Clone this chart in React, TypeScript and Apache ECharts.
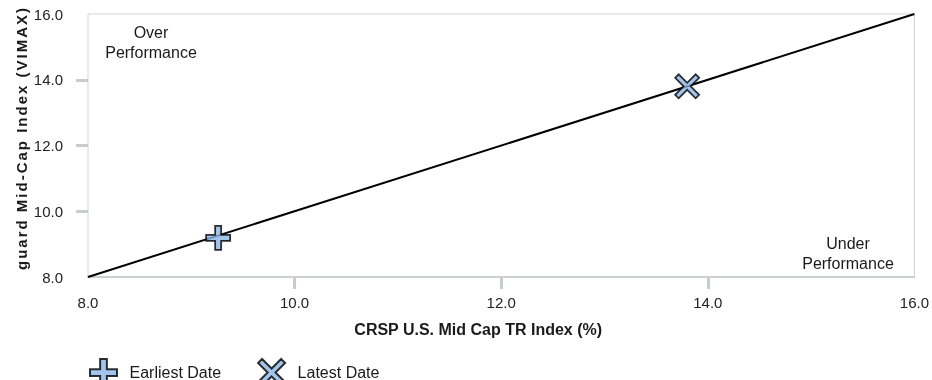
import React, { useEffect, useRef } from "react";
import * as echarts from "echarts";

// ---- data ----
const axisMin = 8;
const axisMax = 16;
const axisStep = 2;
const innerTicks = [10, 12, 14];
const diagonal = [
  [8, 8],
  [16, 16],
];
const earliestDate = [[9.26, 9.19]];
const latestDate = [[13.8, 13.8]];
const seriesNames = ["Earliest Date", "Latest Date"];
const xAxisTitle = "CRSP U.S. Mid Cap TR Index (%)";
const yAxisTitle = "guard Mid-Cap Index (VIMAX)";
const overLabel = "Over\nPerformance";
const underLabel = "Under\nPerformance";

const FONT = '"Liberation Sans", Arial, Helvetica, sans-serif';
const PLUS =
  "path://M9,0 L15,0 L15,9 L24,9 L24,15 L15,15 L15,24 L9,24 L9,15 L0,15 L0,9 L9,9 Z";
const CROSS =
  "path://M0,3.5 L3.5,0 L12,8.5 L20.5,0 L24,3.5 L15.5,12 L24,20.5 L20.5,24 L12,15.5 L3.5,24 L0,20.5 L8.5,12 Z";

export default function App() {
  const ref = useRef<HTMLDivElement>(null);

  useEffect(() => {
    if (!ref.current) return;
    const el = ref.current;
    const chart = echarts.init(el, null, { renderer: "svg" });
    const fmt = (v: number) => v.toFixed(1);
    const markerStyle = {
      color: "#8db6e6",
      borderColor: "#000",
      borderWidth: 1.8,
    };
    chart.setOption({
      animation: false,
      textStyle: { fontFamily: FONT },
      grid: {
        left: 88,
        top: 14,
        right: 16,
        bottom: 103,
        show: true,
        borderColor: "#d3d3d3",
        borderWidth: 1,
      },
      xAxis: {
        type: "value",
        min: axisMin,
        max: axisMax,
        interval: axisStep,
        name: xAxisTitle,
        nameLocation: "middle",
        nameGap: 44,
        nameTextStyle: {
          fontFamily: FONT,
          fontWeight: "bold",
          fontSize: 16,
          color: "#1a1a1a",
          padding: [0, 46, 0, 0],
        },
        axisLine: { show: true, lineStyle: { color: "#cdd0d3", width: 2 } },
        axisTick: {
          show: true,
          length: 12,
          customValues: innerTicks,
          lineStyle: { color: "#c8ccd0", width: 3 },
        },
        axisLabel: {
          formatter: fmt,
          margin: 18,
          fontSize: 15,
          color: "#222",
          fontFamily: FONT,
        },
        splitLine: { show: false },
      },
      yAxis: {
        type: "value",
        min: axisMin,
        max: axisMax,
        interval: axisStep,
        axisLine: { show: false },
        axisTick: {
          show: true,
          length: 12,
          customValues: innerTicks,
          lineStyle: { color: "#c8ccd0", width: 3 },
        },
        axisLabel: {
          formatter: fmt,
          margin: 25,
          fontSize: 15,
          color: "#222",
          fontFamily: FONT,
        },
        splitLine: { show: false },
      },
      legend: {
        left: 89,
        top: 358,
        padding: 0,
        itemWidth: 42,
        itemHeight: 27,
        itemGap: 36,
        symbolKeepAspect: true,
        data: seriesNames,
        textStyle: { fontSize: 16, color: "#1a1a1a", fontFamily: FONT },
      },
      graphic: [
        {
          type: "text",
          x: 21,
          y: 270,
          rotation: Math.PI / 2,
          style: {
            text: yAxisTitle,
            fill: "#1a1a1a",
            font: `bold 15px ${FONT}`,
            textAlign: "left",
            textVerticalAlign: "middle",
          },
        },
        {
          type: "text",
          x: 151,
          y: 22,
          style: {
            text: overLabel,
            fill: "#1a1a1a",
            font: `16px ${FONT}`,
            textAlign: "center",
            lineHeight: 20,
          },
        },
        {
          type: "text",
          x: 848,
          y: 233,
          style: {
            text: underLabel,
            fill: "#1a1a1a",
            font: `16px ${FONT}`,
            textAlign: "center",
            lineHeight: 20,
          },
        },
      ],
      series: [
        {
          name: "diagonal",
          type: "line",
          data: diagonal,
          showSymbol: false,
          symbol: "none",
          lineStyle: { color: "#000", width: 2 },
          silent: true,
          z: 1,
        },
        {
          name: seriesNames[0],
          type: "scatter",
          data: earliestDate,
          symbol: PLUS,
          symbolSize: 24,
          itemStyle: markerStyle,
          z: 3,
        },
        {
          name: seriesNames[1],
          type: "scatter",
          data: latestDate,
          symbol: CROSS,
          symbolSize: 24,
          itemStyle: markerStyle,
          z: 3,
        },
      ],
    });

    const applySpacing = () => {
      el.querySelectorAll("text").forEach((t) => {
        if ((t.textContent || "").includes("VIMAX")) {
          (t as unknown as SVGElement).style.letterSpacing = "2px";
        }
      });
    };
    applySpacing();
    chart.on("finished", applySpacing);

    return () => {
      chart.dispose();
    };
  }, []);

  return (
    <div
      ref={ref}
      style={{ position: "fixed", left: 0, top: 0, width: 932, height: 380 }}
    />
  );
}
